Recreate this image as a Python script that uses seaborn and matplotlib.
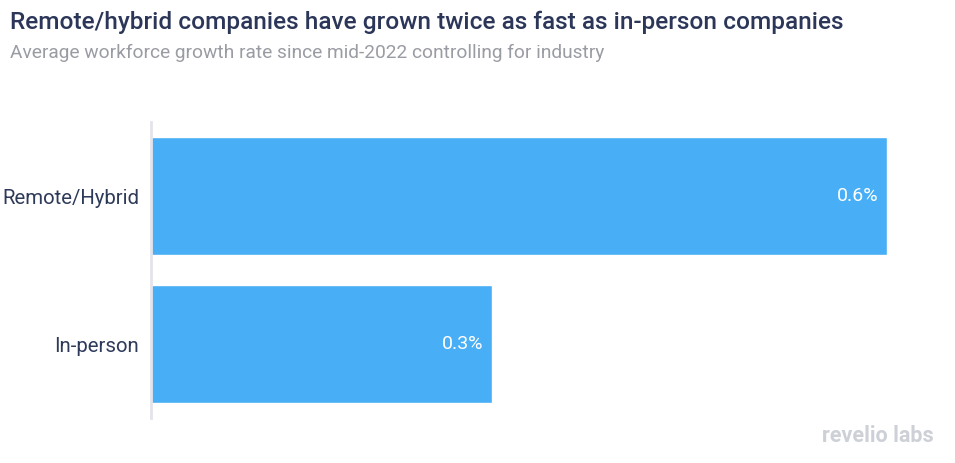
import matplotlib
matplotlib.use("Agg")
import matplotlib.pyplot as plt
import seaborn as sns
import pandas as pd

categories = ["Remote/Hybrid", "In-person"]
growth = [0.60, 0.278]
value_labels = ["0.6%", "0.3%"]

title = "Remote/hybrid companies have grown twice as fast as in-person companies"
subtitle = "Average workforce growth rate since mid-2022 controlling for industry"

sns.set_theme(style="white")
plt.rcParams["font.family"] = ["Roboto", "DejaVu Sans"]

df = pd.DataFrame({"category": categories, "growth": growth})

W, H = 955, 463
fig = plt.figure(figsize=(W / 100, H / 100), dpi=100)
ax = fig.add_axes([151 / W, 1 - 418 / H, (887 - 151) / W, (418 - 122) / H])

sns.barplot(data=df, x="growth", y="category", orient="h", color="#48aef5",
            saturation=1, width=0.795, ax=ax)
ax.set_xlim(0, 0.60)
ax.set_ylim(1.5, -0.5)

for p, lab in zip(ax.patches, value_labels):
    ax.annotate(lab, (p.get_x() + p.get_width(), p.get_y() + p.get_height() / 2),
                xytext=(-6, 0), textcoords="offset points", ha="right", va="center",
                color="white", fontsize=14)

for s in ["top", "right", "bottom"]:
    ax.spines[s].set_visible(False)
ax.spines["left"].set_color("#e3e4ea")
ax.spines["left"].set_linewidth(2)
ax.set_xticks([])
ax.set_xlabel("")
ax.set_ylabel("")
ax.tick_params(axis="y", length=0, pad=8.5, labelsize=14.7, labelcolor="#2e3a59")

fig.text(10 / W, 1 - 22 / H, title, fontsize=17.6, fontweight="medium",
         color="#2b3658", ha="left", va="center")
fig.text(10 / W, 1 - 53 / H, subtitle, fontsize=13.8, color="#9a9ca3",
         ha="left", va="center")
fig.text(934 / W, 1 - 436 / H, "revelio labs", fontsize=15.5, fontweight="bold",
         color="#cdd0d6", ha="right", va="center")

fig.savefig("out.png", dpi=100)
